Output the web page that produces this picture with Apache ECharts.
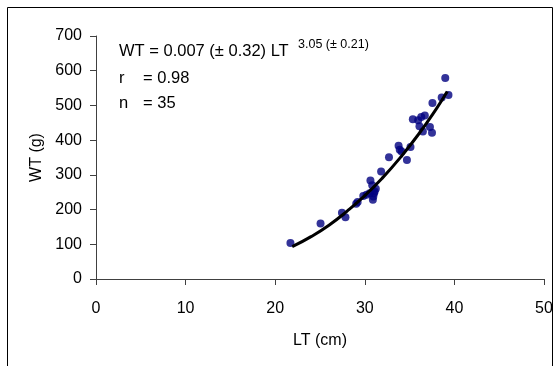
<!DOCTYPE html>
<html>
<head>
<meta charset="utf-8">
<script src="https://cdn.jsdelivr.net/npm/echarts@6/dist/echarts.min.js"></script>
<style>
html,body{margin:0;padding:0;background:#fff;}
#chart{width:557px;height:366px;}
</style>
</head>
<body>
<div id="chart"></div>
<script>
// Observed data (LT cm, WT g)
const lengthCm = [21.7, 25.06, 27.45, 27.84, 29.04, 29.2, 29.83, 30.2, 30.63, 30.83, 30.55, 31.03, 31.23, 30.9, 30.95, 31.1, 31.82, 32.7, 33.77, 34.1, 34.7, 35.1, 35.36, 35.96, 36.3, 36.7, 36.48, 37.27, 37.5, 37.55, 38.58, 38.98, 39.34, 36.1, 33.9];
const weightG  = [104, 160, 191, 178, 217, 222, 239, 243, 284, 270, 247, 247, 260, 228, 238, 252, 310, 351, 384, 367, 343, 380, 460, 457, 467, 471, 425, 438, 421, 507, 523, 579, 530, 440, 372];
// Fitted curve
const fitLength = [21.9, 24, 26, 28, 30, 32, 34, 36, 38, 39.2];
const fitWeight = [93, 122, 155, 195, 240, 292, 351, 417, 491, 540];
// Axis ticks
const xTicks = [0, 10, 20, 30, 40, 50];
const yTicks = [0, 100, 200, 300, 400, 500, 600, 700];

const chart = echarts.init(document.getElementById('chart'), null, {renderer: 'canvas'});
const font = 'Arial, "Liberation Sans", sans-serif';
const axisCommon = {
  axisLine: {show: true, onZero: false, lineStyle: {color: '#404040', width: 1}},
  axisTick: {show: true, inside: false, length: 6, lineStyle: {color: '#404040', width: 1}},
  splitLine: {show: false},
  nameTextStyle: {color: '#000', fontSize: 16, fontFamily: font}
};
chart.setOption({
  animation: false,
  backgroundColor: '#fff',
  grid: {left: 96, right: 13, top: 36, bottom: 87, containLabel: false},
  xAxis: Object.assign({}, axisCommon, {
    type: 'value', min: xTicks[0], max: xTicks[xTicks.length - 1], interval: 10,
    name: 'LT (cm)', nameLocation: 'middle', nameGap: 54,
    axisLabel: {color: '#000', fontSize: 16, fontFamily: font, margin: 22}
  }),
  yAxis: Object.assign({}, axisCommon, {
    type: 'value', min: yTicks[0], max: yTicks[yTicks.length - 1], interval: 100,
    name: 'WT (g)', nameLocation: 'middle', nameGap: 51,
    axisLabel: {color: '#000', fontSize: 16, fontFamily: font, margin: 14}
  }),
  series: [
    {
      type: 'scatter',
      data: lengthCm.map((x, i) => [x, weightG[i]]),
      symbol: 'circle', symbolSize: 8,
      itemStyle: {color: '#000080'},
      z: 2
    },
    {
      type: 'line',
      data: fitLength.map((x, i) => [x, fitWeight[i]]),
      smooth: true, showSymbol: false,
      lineStyle: {color: '#000', width: 3},
      z: 3
    }
  ],
  graphic: [
    {type: 'rect', shape: {x: 7.5, y: 7.5, width: 545, height: 370}, style: {fill: 'none', stroke: '#000', lineWidth: 1}, silent: true},
    {type: 'text', left: 119, top: 43, style: {text: 'WT = 0.007 (± 0.32) LT', font: '16.5px ' + font, fill: '#000'}},
    {type: 'text', left: 298, top: 38, style: {text: '3.05 (± 0.21)', font: '12.5px ' + font, fill: '#000'}},
    {type: 'text', left: 119, top: 70, style: {text: 'r', font: '16.5px ' + font, fill: '#000'}},
    {type: 'text', left: 143, top: 70, style: {text: '= 0.98', font: '16.5px ' + font, fill: '#000'}},
    {type: 'text', left: 119, top: 95, style: {text: 'n', font: '16.5px ' + font, fill: '#000'}},
    {type: 'text', left: 143, top: 95, style: {text: '= 35', font: '16.5px ' + font, fill: '#000'}}
  ]
});
</script>
</body>
</html>
